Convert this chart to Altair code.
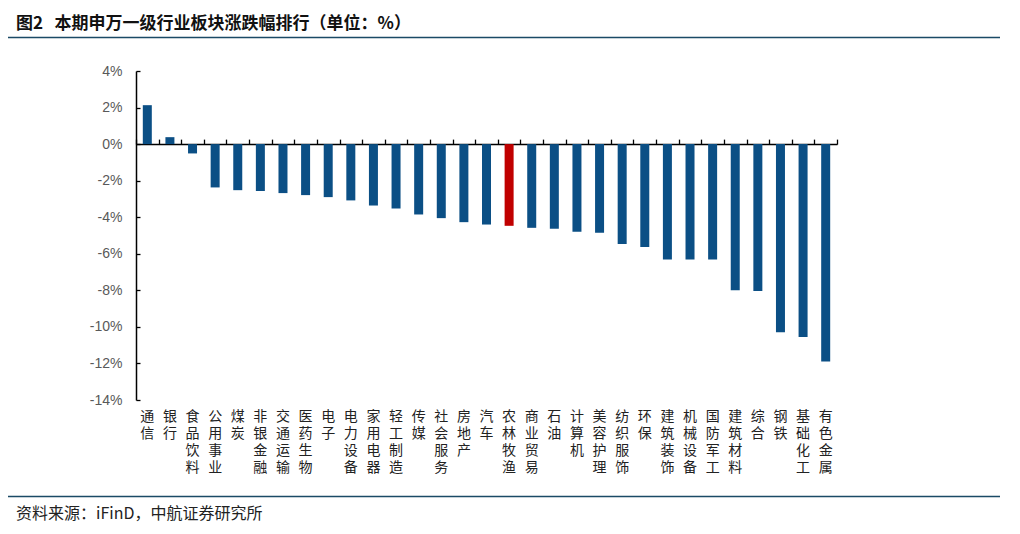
import altair as alt
import pandas as pd

categories = ["通信", "银行", "食品饮料", "公用事业", "煤炭", "非银金融", "交通运输", "医药生物",
              "电子", "电力设备", "家用电器", "轻工制造", "传媒", "社会服务", "房地产", "汽车",
              "农林牧渔", "商业贸易", "石油", "计算机", "美容护理", "纺织服饰", "环保", "建筑装饰",
              "机械设备", "国防军工", "建筑材料", "综合", "钢铁", "基础化工", "有色金属"]
values = [2.13, 0.38, -0.51, -2.37, -2.52, -2.57, -2.68, -2.79,
          -2.90, -3.08, -3.36, -3.52, -3.85, -4.05, -4.27, -4.40,
          -4.47, -4.58, -4.63, -4.80, -4.85, -5.47, -5.63, -6.31,
          -6.31, -6.31, -7.99, -8.04, -10.30, -10.56, -11.89]
highlight = "农林牧渔"
y_ticks = [4, 2, 0, -2, -4, -6, -8, -10, -12, -14]

title_text = "图2\u00a0\u00a0\u00a0本期申万一级行业板块涨跌幅排行（单位：%）"
source_text = "资料来源：iFinD，中航证券研究所"

df = pd.DataFrame({"industry": categories, "change": values})
df["hl"] = df["industry"] == highlight

W, H = 701, 329
ymin, ymax = -14, 4
zero_off = H * ymax / (ymax - ymin)

x_scale = alt.Scale(domain=categories, paddingInner=0, paddingOuter=0)
y_scale = alt.Scale(domain=[ymin, ymax], nice=False, zero=False)

CJK = "Noto Sans CJK SC"

base = alt.Chart(df)

bars = base.mark_bar(size=9).encode(
    x=alt.X("industry:N", scale=x_scale, sort=categories,
            axis=alt.Axis(orient="bottom", domain=False, ticks=False, labelAngle=0,
                          labelExpr="split(datum.label, '')", labelLineHeight=17,
                          labelFontSize=14, labelFont=CJK, labelColor="#222222",
                          labelBaseline="top", labelPadding=9, labelOverlap=False,
                          title=None)),
    y=alt.Y("change:Q", scale=y_scale,
            axis=alt.Axis(orient="left", values=y_ticks, labelExpr="datum.value + '%'",
                          labelFont="Liberation Sans", labelFontSize=14, labelColor="#595959",
                          domain=True, domainColor="#000000", domainWidth=1.5,
                          ticks=False, labelPadding=14, grid=False, title=None)),
    color=alt.condition("datum.hl", alt.value("#C00000"), alt.value("#0B4F85")),
)

zero_axis = base.mark_bar(size=9, opacity=0).encode(
    x=alt.X("industry:N", scale=x_scale, sort=categories,
            axis=alt.Axis(orient="top", offset=-zero_off, domain=True, domainColor="#000000",
                          domainWidth=1.5, ticks=True, tickBand="extent", tickSize=5,
                          tickColor="#000000", tickWidth=1.3, labels=False, title=None)),
    y=alt.Y("change:Q", scale=y_scale,
            axis=alt.Axis(orient="right", offset=-W, values=y_ticks, domain=False,
                          labels=False, ticks=True, tickSize=4, tickColor="#000000",
                          tickWidth=1.3, grid=False, title=None)),
)

one = pd.DataFrame({"t": [title_text], "s": [source_text]})
deco = alt.Chart(one)

top_line = deco.mark_rule(color="#1B4A66", strokeWidth=1.5).encode(
    x=alt.value(-128), x2=alt.value(864), y=alt.value(-33.5))
bottom_line = deco.mark_rule(color="#1B4A66", strokeWidth=1.5).encode(
    x=alt.value(-128), x2=alt.value(864), y=alt.value(425.5))
title = deco.mark_text(align="left", baseline="middle", font=CJK, fontSize=17,
                       fontWeight="bold", color="#111111").encode(
    x=alt.value(-120), y=alt.value(-47), text="t:N")
source = deco.mark_text(align="left", baseline="middle", font=CJK, fontSize=16,
                        color="#222222").encode(
    x=alt.value(-120), y=alt.value(443), text="s:N")

chart = alt.layer(bars, zero_axis, top_line, bottom_line, title, source).resolve_axis(
    x="independent", y="independent"
).properties(
    width=W, height=H,
    autosize=alt.AutoSizeParams(type="none"),
    padding={"left": 128, "top": 63, "right": 167, "bottom": 124},
).configure_view(stroke=None)

chart.save("out.html", embed_options={"renderer": "svg", "actions": False})
